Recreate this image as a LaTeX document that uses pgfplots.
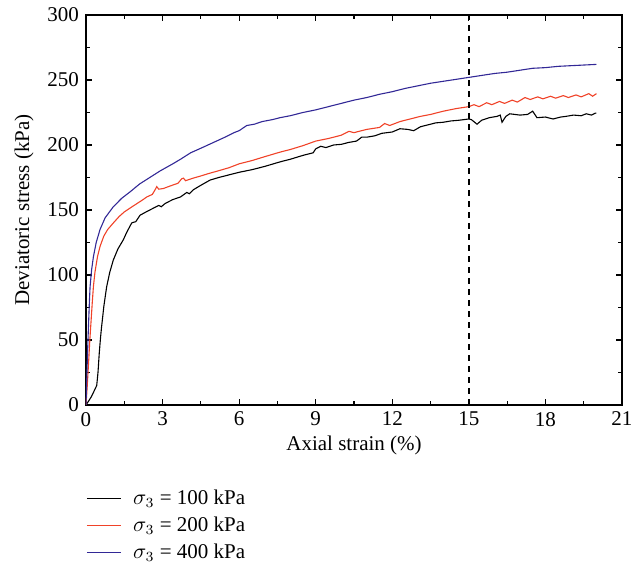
\documentclass[border=0pt]{standalone}
\usepackage{pgfplots}
\pgfplotsset{compat=1.18}
\usepackage{fontspec}
\setmainfont{Liberation Serif}
\definecolor{cred}{RGB}{240,66,40}
\definecolor{cblue}{RGB}{50,40,150}
\begin{document}
\begin{tikzpicture}
\def\u{0.5pt}
\begin{axis}[
  scale only axis,
  width=268pt, height=195pt,
  xmin=0, xmax=21, ymin=0, ymax=300,
  xtick={0,3,...,21}, ytick={0,50,...,300},
  minor x tick num=1, minor y tick num=1,
  tick align=inside,
  major tick length=3pt, minor tick length=2pt,
  axis line style={line width=0.7pt},
  every tick/.style={line width=0.6pt, black},
  /pgf/number format/assume math mode=true,
  tick label style={font=\fontsize{10.5}{12}\selectfont},
  label style={font=\fontsize{10.5}{12}\selectfont},
  xlabel={Axial strain (\%)},
  ylabel={Deviatoric stress (kPa)},
  xlabel style={yshift=2pt},
  legend style={at={(0,-0.21)}, anchor=north west, draw=none, fill=none,
    font=\fontsize{10.5}{12}\selectfont, row sep=2.3pt, inner sep=0pt,
    nodes={inner sep=1.2pt},
    /tikz/every odd column/.append style={column sep=4.5pt}},
  legend cell align=left,
  legend image code/.code={\draw[#1] (0cm,0cm) -- (0.6cm,0cm);},
]
\addplot[black, line width=0.55pt] coordinates {
(0,0)(0.1,3)(0.2,6)(0.3,10)(0.42,15)(0.47,25)(0.52,40)(0.57,52)(0.61,60)(0.7,76)(0.81,91)(0.93,102)(1.07,111.5)(1.25,120)(1.46,127)(1.6,133)(1.79,140)(1.85,140.5)(1.95,141)(2.12,146)(2.4,149)(2.7,152)(2.85,153.5)(2.95,152.5)(3.1,155)(3.4,158)(3.7,160)(3.95,163.5)(4.05,162.5)(4.2,165.5)(4.5,169)(4.86,173)(5.2,175)(5.6,177)(6,179)(6.5,181)(7,183.5)(7.6,187)(8,189)(8.5,192)(8.9,194)(9.0,197)(9.2,199)(9.4,198)(9.7,200)(10,200.5)(10.3,202)(10.6,203)(10.8,206)(11,206)(11.3,207)(11.6,209)(12,210)(12.3,212.5)(12.6,212)(12.84,211)(13.1,214)(13.4,215.5)(13.7,217)(14,217.5)(14.3,218.5)(14.6,219)(15,220)(15.1,219.5)(15.32,216)(15.5,219)(15.8,221)(16.1,222)(16.23,223)(16.3,217.5)(16.45,222)(16.6,224)(17,223)(17.3,223.5)(17.5,226)(17.67,221)(18,221.5)(18.3,220)(18.6,221.5)(18.8,222)(19.1,223)(19.4,222.5)(19.6,224)(19.8,223)(19.96,224.5)(20,224.5)};
\addlegendentry{$\sigma_3$ = 100 kPa}
\addplot[cred, line width=0.55pt] coordinates {
(0,0)(0.05,15)(0.1,32)(0.15,50)(0.2,65)(0.25,80)(0.29,91)(0.35,102)(0.45,114)(0.55,122)(0.7,130)(0.85,135)(1.07,140)(1.3,145)(1.5,148.5)(1.73,151.5)(2.0,155)(2.2,157.5)(2.38,160)(2.6,162)(2.72,166)(2.77,168)(2.85,166)(3.03,166.5)(3.3,168.5)(3.6,170.5)(3.75,174)(3.82,174.5)(3.9,172.5)(4.2,174.5)(4.47,176)(4.8,178)(5.25,180.5)(5.6,182.5)(6,185.5)(6.5,188)(7,191)(7.6,194.5)(8,196.5)(8.5,199.5)(9,203)(9.5,205)(10,207.5)(10.3,210.5)(10.5,209.5)(11,212)(11.5,213.5)(11.7,216.5)(11.9,215)(12.3,218)(12.7,220)(13.1,222)(13.5,223.5)(14,226)(14.5,228)(15,229.5)(15.2,231)(15.4,229.5)(15.7,232.5)(15.9,231)(16.2,233.5)(16.4,232)(16.7,234.5)(16.9,233)(17.2,236.5)(17.4,235)(17.7,237)(17.9,235.5)(18.2,237.5)(18.4,236)(18.7,238)(18.9,236.5)(19.2,238.5)(19.4,237)(19.7,239.5)(19.85,237.5)(20,239.5)};
\addlegendentry{$\sigma_3$ = 200 kPa}
\addplot[cblue, line width=0.55pt] coordinates {
(0,0)(0.03,20)(0.06,40)(0.1,62)(0.13,78)(0.16,91)(0.22,104)(0.29,114)(0.4,125)(0.55,135)(0.75,144)(1.07,152.5)(1.4,159)(1.73,164)(2.1,170)(2.5,175)(2.9,180)(3.4,185.5)(3.7,189)(4.1,194)(4.5,197.5)(5,202)(5.5,206.5)(5.8,209.5)(6,211)(6.3,215)(6.6,216)(6.9,218)(7.3,219.5)(7.6,221)(8,222.5)(8.5,225)(9,227)(9.5,229.5)(10,232)(10.5,234.5)(11,236.5)(11.5,239)(12,241)(12.5,243.5)(13,245.5)(13.5,247.5)(14,249)(14.5,250.5)(15,252)(15.5,253.5)(16,255)(16.5,256)(17,257.5)(17.5,259)(18,259.5)(18.5,260.5)(19,261)(19.5,261.5)(20,262)};
\addlegendentry{$\sigma_3$ = 400 kPa}
\addplot[black, line width=0.7pt, dash pattern=on 3pt off 2.5pt, forget plot] coordinates {(15,0)(15,300)};
\coordinate (bl) at (rel axis cs:0,0);
\coordinate (tr) at (rel axis cs:1,1);
\end{axis}
\pgfresetboundingbox
\path ([xshift=-86*\u, yshift=-159*\u]bl) rectangle ([xshift=22*\u, yshift=15*\u]tr);
\end{tikzpicture}
\end{document}
